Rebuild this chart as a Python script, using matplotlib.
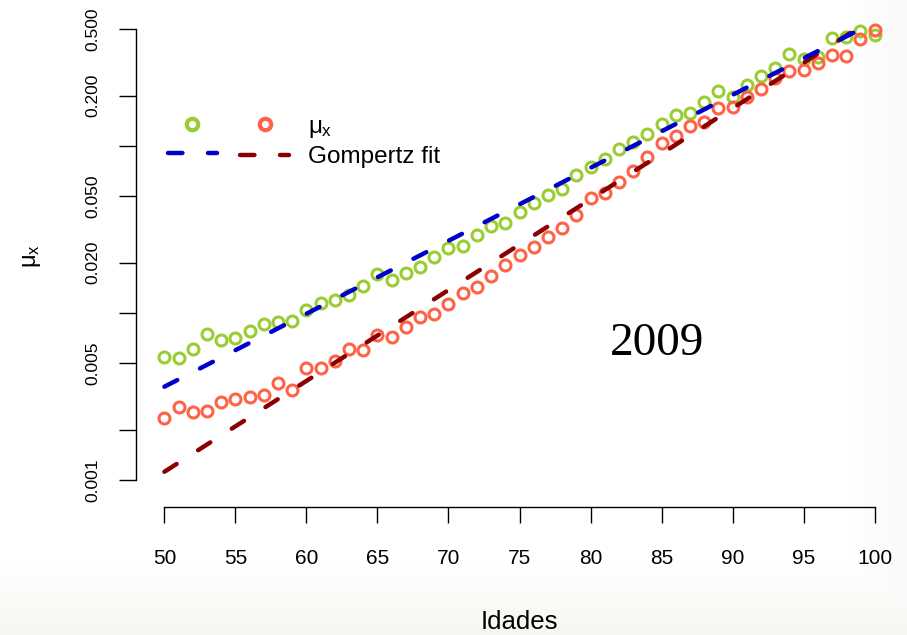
import matplotlib
matplotlib.use("Agg")
import matplotlib.pyplot as plt
from matplotlib.lines import Line2D
import numpy as np

plt.rcParams['font.family'] = ['Liberation Sans', 'DejaVu Sans']
plt.rcParams['mathtext.fontset'] = 'custom'
plt.rcParams['mathtext.rm'] = 'Liberation Sans'
plt.rcParams['mathtext.it'] = 'Liberation Sans'

# data
ages = list(range(50, 101))
mu_green = [0.00543, 0.00535, 0.00606, 0.00746, 0.00689, 0.00706, 0.00780, 0.00856,
            0.00883, 0.00899, 0.0104, 0.0115, 0.0119, 0.0129, 0.0145, 0.0171,
            0.0158, 0.0174, 0.0189, 0.0216, 0.0244, 0.0252, 0.0293, 0.0332,
            0.0347, 0.0404, 0.0454, 0.0509, 0.0550, 0.0671, 0.0752, 0.0833,
            0.0955, 0.106, 0.118, 0.135, 0.153, 0.158, 0.184, 0.214,
            0.197, 0.232, 0.263, 0.292, 0.356, 0.331, 0.343, 0.441, 0.448,
            0.490, 0.462]
mu_red = [0.00234, 0.00275, 0.00255, 0.00260, 0.00292, 0.00304, 0.00315, 0.00323,
          0.00379, 0.00346, 0.00467, 0.00467, 0.00518, 0.00609, 0.00600, 0.00739,
          0.00721, 0.00828, 0.00950, 0.00986, 0.0113, 0.0131, 0.0143, 0.0167,
          0.0194, 0.0223, 0.0250, 0.0286, 0.0322, 0.0386, 0.0486, 0.0521,
          0.0611, 0.0711, 0.0863, 0.104, 0.115, 0.132, 0.140, 0.168,
          0.172, 0.196, 0.219, 0.254, 0.281, 0.284, 0.314, 0.353, 0.346,
          0.439, 0.497]

# Gompertz fits over ages 50-99: mu = a * exp(b * (x - 50))
fit_ages = list(range(50, 100))
gomp_blue = (0.00362, 0.1006)
gomp_darkred = (0.00112, 0.1253)

green = '#9acd32'
red = '#ff6347'
blue = '#0000cd'
darkred = '#8b0000'

fig = plt.figure(figsize=(9.07, 6.35), dpi=100)

# soft slide background
bg = fig.add_axes([0, 0, 1, 1], zorder=-10)
yy, xx = np.mgrid[0:635, 0:907]
t = np.maximum(np.clip((yy - 565) / 70.0, 0, 1), np.clip((xx - 850) / 57.0, 0, 1) * 0.6)
base = np.array([1.0, 1.0, 1.0])
edge = np.array([0.967, 0.963, 0.948])
img = base[None, None, :] * (1 - t[..., None]) + edge[None, None, :] * t[..., None]
bg.imshow(img, aspect='auto', interpolation='bilinear')
bg.axis('off')

ax = fig.add_axes([136 / 907, (635 - 507) / 635, 767 / 907, 502 / 635])
ax.patch.set_alpha(0)
ax.set_yscale('log')
ax.set_xlim(48, 102)
ax.set_ylim(0.000689, 0.699)

mk = dict(marker='o', linestyle='none', markersize=7.9, markerfacecolor='none',
          markeredgewidth=2.2)
ax.plot(ages, mu_green, color=green, markeredgecolor=green, **mk)
ax.plot(ages, mu_red, color=red, markeredgecolor=red, **mk)

x = np.array(fit_ages, dtype=float)
lw = 3.2
dash = (0, (3.25, 5.75))
ax.plot(x, gomp_darkred[0] * np.exp(gomp_darkred[1] * (x - 50)), color=darkred,
        lw=lw, linestyle=dash, dash_capstyle='round')
ax.plot(x, gomp_blue[0] * np.exp(gomp_blue[1] * (x - 50)), color=blue,
        lw=lw, linestyle=dash, dash_capstyle='round')

for s in ['top', 'right']:
    ax.spines[s].set_visible(False)
ax.spines['left'].set_bounds(0.001, 0.5)
ax.spines['bottom'].set_bounds(50, 100)
ax.spines['left'].set_linewidth(1.0)
ax.spines['bottom'].set_linewidth(1.0)

ax.set_xticks(list(range(50, 101, 5)))
ax.tick_params(axis='x', labelsize=15, length=11.5, width=1.0, pad=19)
yticks = [0.001, 0.002, 0.005, 0.01, 0.02, 0.05, 0.1, 0.2, 0.5]
ylabels = ['0.001', '', '0.005', '', '0.020', '0.050', '', '0.200', '0.500']
ax.set_yticks(yticks)
ax.set_yticklabels(ylabels, rotation=90, va='center')
ax.yaxis.set_minor_locator(matplotlib.ticker.NullLocator())
ax.tick_params(axis='y', labelsize=12.5, length=12, width=1.0, pad=14)

ax.set_xlabel('Idades', fontsize=18.5, labelpad=30)
ax.set_ylabel(r'$\mu_x$', fontsize=17, labelpad=30)

ax.text(0.68, 0.325, '2009', transform=ax.transAxes, fontsize=34,
        family='Liberation Serif', ha='center', va='center')

lmk = dict(mk, markersize=8.2, markeredgewidth=3.0)
h = [Line2D([], [], **dict(lmk, color=green, markeredgecolor=green)),
     Line2D([], [], color=blue, lw=lw, linestyle=dash, dash_capstyle='round'),
     Line2D([], [], **dict(lmk, color=red, markeredgecolor=red)),
     Line2D([], [], color=darkred, lw=lw, linestyle=dash, dash_capstyle='round')]
ax.legend(h, ['', '', r'$\mu_x$', 'Gompertz fit'], ncol=2, loc='upper left',
          bbox_to_anchor=(0.0417, 0.779), frameon=False, fontsize=17.5,
          handlelength=2.0, handletextpad=0.78, columnspacing=0.2,
          labelspacing=0.25, borderpad=0, borderaxespad=0, numpoints=1)

fig.savefig('out.png', dpi=100)
